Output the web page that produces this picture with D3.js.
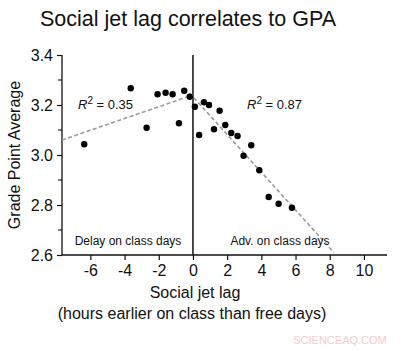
<!DOCTYPE html>
<html>
<head>
<meta charset="utf-8">
<script src="https://cdn.jsdelivr.net/npm/d3@7"></script>
<style>
  body { margin: 0; background: #fff; }
  svg { display: block; font-family: "Liberation Sans", Arial, sans-serif; }
</style>
</head>
<body>
<svg id="chart" width="400" height="350"></svg>
<script>
// Social jet lag (h) vs. grade point average
const jetLag = [-6.36, -3.64, -2.71, -2.07, -1.60, -1.19, -0.82, -0.51, -0.19,
                 0.11, 0.36, 0.64, 0.94, 1.23, 1.56, 1.89, 2.24, 2.61, 2.96, 3.41, 3.88, 4.43, 5.01, 5.79];
const gpa    = [3.043, 3.267, 3.109, 3.243, 3.249, 3.243, 3.127, 3.257, 3.233,
                3.193, 3.080, 3.211, 3.200, 3.103, 3.177, 3.120, 3.088, 3.076, 2.997, 3.039, 2.939, 2.832, 2.805, 2.789];

// Fitted trend lines: [x0, y0, x1, y1]
const delayFit = [-7.66, 3.060, 0.0, 3.240];
const advFit   = [-0.2, 3.248, 8.25, 2.610];

const xTicks = [-6, -4, -2, 0, 2, 4, 6, 8, 10];
const yTicks = [2.6, 2.8, 3.0, 3.2, 3.4];
const yMinorTicks = [2.7, 2.9, 3.1, 3.3];

const svg = d3.select("#chart");

const x = d3.scaleLinear().domain([-7.66, 11.35]).range([62, 387]);
const y = d3.scaleLinear().domain([2.6, 3.4]).range([255, 55]);

// Title
svg.append("text")
  .attr("x", 188).attr("y", 26)
  .attr("text-anchor", "middle")
  .attr("font-size", 21.5)
  .attr("fill", "#111")
  .text("Social jet lag correlates to GPA");

// X axis
const xAxis = svg.append("g")
  .attr("transform", `translate(0,${y(2.6)})`)
  .call(d3.axisBottom(x).tickValues(xTicks).tickSize(5).tickPadding(5).tickFormat(d3.format("d")));
xAxis.select(".domain").attr("d", `M${x.range()[0]},0H${x.range()[1]}`).attr("stroke", "#111").attr("stroke-width", 1.3);
xAxis.selectAll(".tick line").attr("stroke", "#111").attr("stroke-width", 1.2);
xAxis.selectAll(".tick text")
  .attr("font-size", 16).attr("fill", "#111")
  .text(d => d < 0 ? "-" + Math.abs(d) : d);

// Y axis
const yAxis = svg.append("g")
  .attr("transform", `translate(${x.range()[0]},0)`)
  .call(d3.axisLeft(y).tickValues(yTicks).tickSize(5).tickPadding(4).tickFormat(d3.format(".1f")));
yAxis.select(".domain").attr("d", `M0,${y.range()[0]}V${y.range()[1]}`).attr("stroke", "#111").attr("stroke-width", 1.3);
yAxis.selectAll(".tick line").attr("stroke", "#111").attr("stroke-width", 1.2);
yAxis.selectAll(".tick text").attr("font-size", 16).attr("fill", "#111");

// Minor y ticks
svg.append("g").selectAll("line")
  .data(yMinorTicks)
  .join("line")
  .attr("x1", x.range()[0] - 4).attr("x2", x.range()[0])
  .attr("y1", d => y(d)).attr("y2", d => y(d))
  .attr("stroke", "#111").attr("stroke-width", 1.1);

// Vertical divider at zero jet lag
svg.append("line")
  .attr("x1", x(0)).attr("x2", x(0))
  .attr("y1", y(3.4)).attr("y2", y(2.6))
  .attr("stroke", "#111").attr("stroke-width", 1.5);

// Trend lines
[delayFit, advFit].forEach(f => {
  svg.append("line")
    .attr("x1", x(f[0])).attr("y1", y(f[1]))
    .attr("x2", x(f[2])).attr("y2", y(f[3]))
    .attr("stroke", "#9a9a9a")
    .attr("stroke-width", 1.6)
    .attr("stroke-dasharray", "4,2.5");
});

// Data points
svg.append("g").selectAll("circle")
  .data(jetLag.map((d, i) => [d, gpa[i]]))
  .join("circle")
  .attr("cx", d => x(d[0]))
  .attr("cy", d => y(d[1]))
  .attr("r", 3.2)
  .attr("fill", "#000");

// R² annotations
function rLabel(px, py, val) {
  const t = svg.append("text")
    .attr("x", px).attr("y", py)
    .attr("font-size", 13).attr("fill", "#111");
  t.append("tspan").attr("font-style", "italic").text("R");
  t.append("tspan").attr("dy", -5).attr("font-size", 10).text("2");
  t.append("tspan").attr("dy", 5).text(" = " + val);
}
rLabel(78, 109, "0.35");
rLabel(247, 109, "0.87");

// Region labels
svg.append("text")
  .attr("x", 128).attr("y", 245)
  .attr("text-anchor", "middle")
  .attr("font-size", 12).attr("fill", "#111")
  .text("Delay on class days");
svg.append("text")
  .attr("x", 280).attr("y", 245)
  .attr("text-anchor", "middle")
  .attr("font-size", 12).attr("fill", "#111")
  .text("Adv. on class days");

// X axis title
svg.append("text")
  .attr("x", 195).attr("y", 298)
  .attr("text-anchor", "middle")
  .attr("font-size", 16).attr("fill", "#111")
  .text("Social jet lag");
svg.append("text")
  .attr("x", 192).attr("y", 319)
  .attr("text-anchor", "middle")
  .attr("font-size", 16).attr("fill", "#111")
  .text("(hours earlier on class than free days)");

// Y axis title
svg.append("text")
  .attr("transform", `translate(20,${155}) rotate(-90)`)
  .attr("text-anchor", "middle")
  .attr("font-size", 16).attr("fill", "#111")
  .text("Grade Point Average");

// Site mark
svg.append("text")
  .attr("x", 340).attr("y", 344)
  .attr("text-anchor", "middle")
  .attr("font-size", 11).attr("fill", "#f2cccc")
  .text("SCIENCEAQ.COM");
</script>
</body>
</html>
